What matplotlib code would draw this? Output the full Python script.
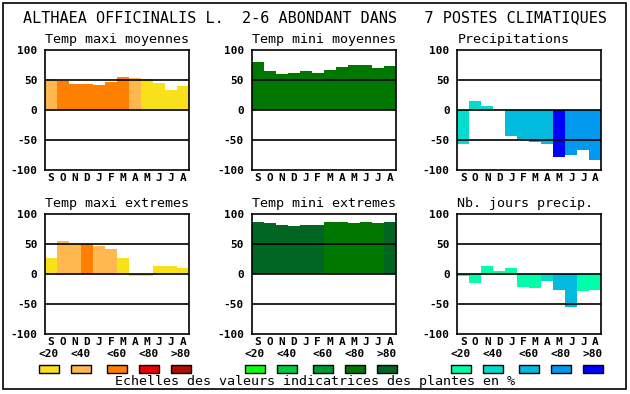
import matplotlib.pyplot as plt
from matplotlib.patches import Rectangle

# month letters (sept -> aug)
months = ["S", "O", "N", "D", "J", "F", "M", "A", "M", "J", "J", "A"]

# bar values
maxi_moy = [51.7, 48.9, 43.9, 43.9, 42.2, 47.2, 55.6, 53.9, 51.7, 45.6, 33.9, 40.6]
mini_moy = [80.0, 65.0, 60.0, 61.7, 65.0, 61.7, 66.7, 71.7, 75.0, 75.0, 70.0, 73.3]
precip = [-56.0, 15.0, 6.7, 0.0, -42.8, -49.4, -52.8, -56.0, -77.8, -74.4, -66.1, -82.8]
maxi_ext = [27.2, 55.6, 50.0, 50.0, 47.2, 42.2, 27.2, -2.2, -2.2, 13.9, 13.9, 10.6]
mini_ext = [87.2, 85.6, 82.8, 81.1, 82.8, 82.8, 87.2, 87.2, 85.6, 87.2, 85.6, 87.2]
nb_jours = [-2.2, -13.9, 13.9, 5.6, 10.6, -20.6, -22.2, -10.6, -25.6, -53.9, -27.2, -25.6]

# class of each bar (0:<20 1:<40 2:<60 3:<80 4:>80)
maxi_moy_cls = [1, 2, 2, 2, 2, 2, 2, 1, 0, 0, 0, 0]
mini_moy_cls = [3] * 12
precip_cls = [1, 1, 1, 1, 2, 2, 2, 2, 4, 3, 3, 3]
maxi_ext_cls = [0, 1, 1, 2, 1, 1, 0, 0, 0, 0, 0, 0]
mini_ext_cls = [4, 4, 4, 4, 4, 4, 3, 3, 3, 3, 3, 4]
nb_jours_cls = [0, 0, 0, 0, 0, 0, 0, 1, 2, 2, 0, 0]

# colour scales
warm = ["#f8e11a", "#ffb84f", "#ff8000", "#e80000", "#b01000"]
green = ["#10ff10", "#00cc44", "#009933", "#007800", "#006622"]
blue = ["#00ffaa", "#00ddcc", "#00bbdd", "#0099ee", "#0000ff"]
scale_labels = ["<20", "<40", "<60", "<80", ">80"]

title = "ALTHAEA OFFICINALIS L.  2-6 ABONDANT DANS   7 POSTES CLIMATIQUES"
footer = "Echelles des valeurs indicatrices des plantes en %"

W, H = 630, 394
fig = plt.figure(figsize=(W / 100, H / 100), dpi=100)
mono = "DejaVu Sans Mono"

fig.patches.append(Rectangle((3 / W, 5 / H), 623 / W, 386 / H, transform=fig.transFigure,
                             fill=False, edgecolor="black", linewidth=1.2))

fig.text(315 / W, 1 - 18 / H, title, ha="center", va="center", family=mono, fontsize=10.9)

panels = [
    ("Temp maxi moyennes", maxi_moy, maxi_moy_cls, warm, 45, 50, "center"),
    ("Temp mini moyennes", mini_moy, mini_moy_cls, green, 251.7, 50, "center"),
    ("Precipitations", precip, precip_cls, blue, 457.3, 50, "left"),
    ("Temp maxi extremes", maxi_ext, maxi_ext_cls, warm, 45, 214.3, "center"),
    ("Temp mini extremes", mini_ext, mini_ext_cls, green, 251.7, 214.3, "center"),
    ("Nb. jours precip.", nb_jours, nb_jours_cls, blue, 457.3, 214.3, "left"),
]

for name, vals, cls, pal, x0, y0, ha in panels:
    ax = fig.add_axes([x0 / W, 1 - (y0 + 120) / H, 144 / W, 120 / H])
    pos = [i + 0.5 for i in range(12)]
    ax.bar(pos, vals, width=1.0, color=[pal[c] for c in cls], zorder=1)
    for yv in (50, 0, -50):
        ax.axhline(yv, color="black", linewidth=1.2, zorder=3)
    ax.set_xlim(0, 12)
    ax.set_ylim(-100, 100)
    ax.set_yticks([100, 50, 0, -50, -100])
    ax.set_yticklabels(["100", "50", "0", "-50", "-100"], family=mono, fontweight="bold", fontsize=8)
    ax.set_xticks(pos)
    ax.set_xticklabels(months, family=mono, fontweight="bold", fontsize=8)
    ax.tick_params(length=0)
    ax.tick_params(axis="y", pad=5.5)
    ax.tick_params(axis="x", pad=2)
    for s in ax.spines.values():
        s.set_linewidth(1.2)
    tx = x0 + 72 if ha == "center" else x0
    fig.text(tx / W, 1 - (y0 - 11) / H, name, ha=ha, va="center", family=mono, fontsize=9.6)

# legend swatches under each column
swatch_x = [
    (warm, [39, 71, 107, 139, 171]),
    (green, [245, 277, 313, 345, 377]),
    (blue, [451, 483, 519, 551, 583]),
]
for pal, xs in swatch_x:
    for col, lab, sx in zip(pal, scale_labels, xs):
        fig.patches.append(Rectangle((sx / W, 1 - 373 / H), 20 / W, 8 / H, transform=fig.transFigure,
                                     facecolor=col, edgecolor="black", linewidth=1))
        fig.text((sx + 10) / W, 1 - 354 / H, lab, ha="center", va="center",
                 family=mono, fontweight="bold", fontsize=8)

fig.text(315 / W, 1 - 382 / H, footer, ha="center", va="center", family=mono, fontsize=9.6)

fig.savefig("out.png", dpi=100)
